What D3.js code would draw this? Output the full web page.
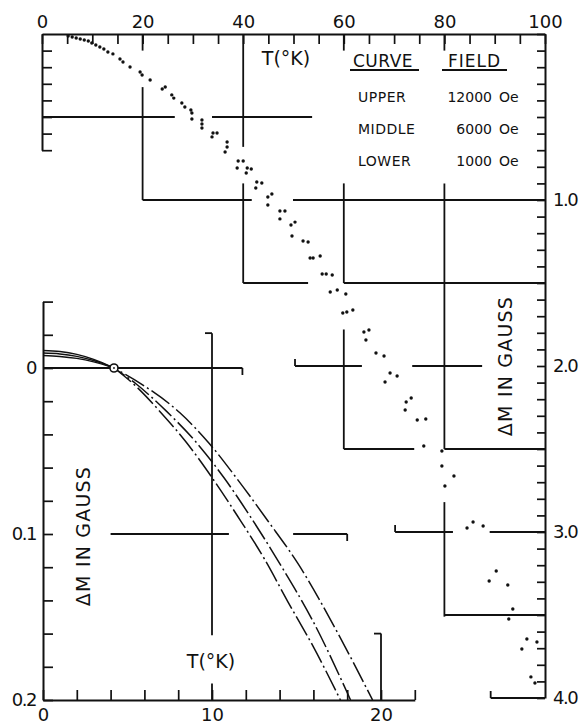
<!DOCTYPE html>
<html>
<head>
<meta charset="utf-8">
<script src="https://cdn.jsdelivr.net/npm/d3@7"></script>
<style>
  html, body { margin: 0; background: #fff; }
  svg text { font-family: "DejaVu Sans", sans-serif; fill: #111; }
</style>
</head>
<body>
<svg id="chart" width="585" height="726"></svg>
<script>
// ---- data ----

// main panel: T (K) on top axis, ΔM (gauss) on right axis
const mainTicksT = d3.range(0, 101, 5)
const mainLabelsT = [0, 20, 40, 60, 80, 100]
const mainTicksM = d3.range(0, 41).map(i => i / 10)
const mainLabelsM = [1, 2, 3, 4]

// measured points, all three fields together
const dotT = [5.2, 6.0, 6.8, 7.6, 8.4, 9.2, 9.9, 10.7, 11.5, 12.3, 13.1, 14.1, 15.5, 16.1, 17.5,
  19.5, 19.9, 21.5, 23.9, 24.5, 25.8, 26.2, 27.8, 28.4, 29.6, 29.8, 29.8, 31.8, 31.8, 31.8,
  34.0, 34.8, 33.8, 36.8, 36.8, 36.4, 39.0, 40.0, 38.8, 40.8, 41.6, 40.6, 42.7, 43.7, 42.5,
  45.7, 44.9, 44.9, 47.3, 48.3, 47.3, 49.5, 50.3, 49.7, 51.9, 52.9, 53.3, 53.9, 55.3, 55.7,
  56.5, 57.7, 57.3, 58.7, 60.4, 59.8, 60.6, 61.8, 65.0, 64.0, 64.4, 66.4, 68.0, 69.2, 70.6,
  68.2, 72.4, 73.4, 72.2, 74.6, 76.3, 75.9, 79.5, 79.5, 81.9, 80.1, 84.5, 85.7, 87.7, 88.9,
  90.3, 92.6, 93.6, 92.8, 96.4, 98.4, 95.4, 97.2, 98.0]
const dotM = [0.012, 0.018, 0.024, 0.030, 0.036, 0.042, 0.054, 0.066, 0.078, 0.090, 0.108, 0.120, 0.151, 0.169, 0.199,
  0.229, 0.247, 0.277, 0.331, 0.319, 0.367, 0.386, 0.416, 0.440, 0.458, 0.476, 0.512, 0.518, 0.542, 0.566,
  0.596, 0.596, 0.620, 0.651, 0.681, 0.711, 0.765, 0.765, 0.807, 0.807, 0.813, 0.837, 0.892, 0.898, 0.928,
  0.964, 0.982, 1.030, 1.066, 1.066, 1.114, 1.151, 1.133, 1.217, 1.247, 1.253, 1.349, 1.349, 1.337, 1.446,
  1.446, 1.452, 1.554, 1.542, 1.566, 1.681, 1.675, 1.663, 1.783, 1.795, 1.843, 1.922, 1.940, 2.042, 2.060,
  2.096, 2.217, 2.193, 2.265, 2.325, 2.319, 2.482, 2.512, 2.602, 2.663, 2.723, 2.976, 2.940, 2.964, 3.295,
  3.235, 3.319, 3.464, 3.524, 3.645, 3.663, 3.705, 3.873, 3.910]

// inset: low temperature curves, [T, ΔM]
const insetTicksT = d3.range(0, 23, 2)
const insetLabelsT = [0, 10, 20]
const insetTicksM = d3.range(-2, 11).map(i => i / 50)
const insetLabelsM = [0, 0.1, 0.2]

const lowerCurve = [[0, -0.0105], [1, -0.0099], [2, -0.0082], [3, -0.0052], [4.2, 0],
  [5.5, 0.011], [6.9, 0.026], [8.5, 0.045], [10, 0.066], [11.5, 0.089], [13.1, 0.115],
  [14.5, 0.141], [16, 0.168], [17.6, 0.2]]
const middleCurve = [[0, -0.009], [1, -0.0085], [2, -0.007], [3, -0.0045], [4.2, 0],
  [5.5, 0.0095], [7.3, 0.026], [9, 0.044], [10.7, 0.066], [12.3, 0.09], [13.9, 0.116],
  [16, 0.153], [18.2, 0.2]]
const upperCurve = [[0, -0.0075], [1, -0.007], [2, -0.0058], [3, -0.0037], [4.2, 0],
  [5.8, 0.0095], [8.1, 0.027], [9.8, 0.045], [11.5, 0.067], [13.3, 0.092], [15.1, 0.118],
  [17.3, 0.157], [19.5, 0.2]]
const crossing = [4.2, 0]

const legendRows = [['UPPER', '12000'], ['MIDDLE', '6000'], ['LOWER', '1000']]

// broken grid pieces of the old drawing, in data units
// main: [ΔM, T from, T to] and [T, ΔM from, ΔM to]
const mainHLines = [[0.5, 0, 26.4], [0.5, 33.8, 53.7], [1.0, 20, 41.7], [1.0, 49.9, 100],
  [1.5, 40, 52.9], [1.5, 60, 100], [2.0, 50.3, 63.6], [2.0, 73.6, 87.5],
  [2.5, 60, 74], [2.5, 80, 100], [3.0, 70.2, 81.7], [3.0, 89, 100], [3.5, 80, 100], [4.0, 89.2, 100]]
const mainVLines = [[20, 0, 0.1], [60, 0, 0.1], [80, 0, 0.1], [20, 0.32, 1.0], [40, 0, 0.68], [40, 0.9, 1.5],
  [60, 0.9, 1.5], [60, 1.78, 2.5], [80, 0.9, 2.5], [80, 2.82, 3.51]]
// inset: same layout
const insetHLines = [[0, 0, 11.8], [0.1, 4, 11.0], [0.1, 14.8, 18.0]]
const insetVLines = [[10, -0.021, 0.161], [10, 0.19, 0.2], [20, 0.16, 0.2]]

// ---- drawing ----
const svg = d3.select('#chart')
const ink = '#111'

const x = d3.scaleLinear().domain([0, 100]).range([42, 545])
const y = d3.scaleLinear().domain([0, 4]).range([34, 698])
const xi = d3.scaleLinear().domain([0, 20]).range([43, 381])
const yi = d3.scaleLinear().domain([0, 0.2]).range([368, 700])

let inkAxis = (g, size) => {
  g.selectAll('.domain').attr('stroke', ink).attr('stroke-width', 2)
  g.selectAll('.tick line').attr('stroke', ink).attr('stroke-width', 1.7)
  g.selectAll('.tick text').attr('fill', ink).attr('font-size', size || 18)
    .attr('font-family', '"DejaVu Sans", sans-serif')
}

// top axis (T, main)
svg.append('g').attr('transform', `translate(0,${y(0)})`)
  .call(d3.axisTop(x).tickValues(mainTicksT).tickSize(-10).tickSizeOuter(0).tickFormat(''))
  .call(inkAxis)
svg.append('g').attr('transform', `translate(0,${y(0)})`)
  .call(d3.axisTop(x).tickValues(mainLabelsT).tickSize(0).tickPadding(6).tickFormat(d3.format('d')))
  .call(g => g.select('.domain').remove())
  .call(inkAxis)

// right axis (ΔM, main)
svg.append('g').attr('transform', `translate(${x(100)},0)`)
  .call(d3.axisRight(y).tickValues(mainTicksM).tickSize(-8).tickSizeOuter(0).tickFormat(''))
  .call(inkAxis)
svg.append('g').attr('transform', `translate(${x(100)},0)`)
  .call(d3.axisRight(y).tickValues(mainLabelsM).tickSize(0).tickPadding(8).tickFormat(d3.format('.1f')))
  .call(g => g.select('.domain').remove())
  .call(inkAxis)
  .call(g => g.selectAll('text').attr('letter-spacing', -1.5))

// short left axis of the main panel
let yLeft = y.copy().domain([0, 0.7]).range([y(0), y(0.7)])
svg.append('g').attr('transform', `translate(${x(0)},0)`)
  .call(d3.axisLeft(yLeft).tickValues(d3.range(1, 8).map(i => i / 10)).tickSize(-10).tickSizeOuter(0).tickFormat(''))
  .call(inkAxis)

// inset axes
let yiAxis = yi.copy().domain([-0.04, 0.2]).range([yi(-0.04), yi(0.2)])
svg.append('g').attr('transform', `translate(${xi(0)},0)`)
  .call(d3.axisLeft(yiAxis).tickValues(insetTicksM).tickSize(-10).tickSizeOuter(0).tickFormat(''))
  .call(inkAxis)
svg.append('g').attr('transform', `translate(${xi(0)},0)`)
  .call(d3.axisLeft(yi).tickValues(insetLabelsM).tickSize(0).tickPadding(7)
    .tickFormat(d => d === 0 ? '0' : d3.format('.1f')(d)))
  .call(g => g.select('.domain').remove())
  .call(inkAxis)
  .call(g => g.selectAll('text').attr('letter-spacing', -1.5))

let xiAxis = xi.copy().domain([0, 22]).range([xi(0), xi(22)])
svg.append('g').attr('transform', `translate(0,${yi(0.2)})`)
  .call(d3.axisBottom(xiAxis).tickValues(insetTicksT).tickSize(-10).tickSizeOuter(0).tickFormat(''))
  .call(inkAxis)
svg.append('g').attr('transform', `translate(0,${yi(0.2)})`)
  .call(d3.axisBottom(xi).tickValues(insetLabelsT).tickSize(0).tickPadding(8).tickFormat(d3.format('d')))
  .call(g => g.select('.domain').remove())
  .call(inkAxis)

// broken grid lines
let grid = svg.append('g').attr('stroke', ink).attr('stroke-width', 1.8).attr('fill', 'none')
grid.selectAll('line.mh').data(mainHLines).join('line').attr('class', 'mh')
  .attr('x1', d => x(d[1])).attr('x2', d => x(d[2])).attr('y1', d => y(d[0])).attr('y2', d => y(d[0]))
grid.selectAll('line.mv').data(mainVLines).join('line').attr('class', 'mv')
  .attr('x1', d => x(d[0])).attr('x2', d => x(d[0])).attr('y1', d => y(d[1])).attr('y2', d => y(d[2]))
grid.selectAll('line.ih').data(insetHLines).join('line').attr('class', 'ih')
  .attr('x1', d => xi(d[1])).attr('x2', d => xi(d[2])).attr('y1', d => yi(d[0])).attr('y2', d => yi(d[0]))
grid.selectAll('line.iv').data(insetVLines).join('line').attr('class', 'iv')
  .attr('x1', d => xi(d[0])).attr('x2', d => xi(d[0])).attr('y1', d => yi(d[1])).attr('y2', d => yi(d[2]))

// little end hooks on some of the pieces
let hook = (px, py, dx, dy) => grid.append('line')
  .attr('x1', px).attr('y1', py).attr('x2', px + dx).attr('y2', py + dy)
hook(x(50.3), y(2.0), 0, -7)
hook(x(70.2), y(3.0), 0, -7)
hook(x(89.2), y(4.0), 0, -7)
hook(xi(11.8), yi(0), 0, 7)
hook(xi(18.0), yi(0.1), 0, 7)
hook(xi(10), yi(-0.021), -7, 0)
hook(xi(20), yi(0.16), -7, 0)

// measured points
svg.append('g').selectAll('circle')
  .data(d3.zip(dotT, dotM))
  .join('circle')
    .attr('cx', d => x(d[0]))
    .attr('cy', d => y(d[1]))
    .attr('r', 1.7)
    .attr('fill', ink)

// inset curves: solid up to the crossing point, dash-dot after it
let curveLine = d3.line().x(d => xi(d[0])).y(d => yi(d[1])).curve(d3.curveMonotoneX)
let curves = [lowerCurve, middleCurve, upperCurve]
let curveG = svg.append('g').attr('fill', 'none').attr('stroke', ink).attr('stroke-width', 1.5)
curves.forEach((c, i) => {
  curveG.append('path').attr('d', curveLine(c.filter(p => p[0] <= crossing[0])))
  curveG.append('path').attr('d', curveLine(c.filter(p => p[0] >= crossing[0])))
    .attr('stroke-dasharray', '22,3.5,2,3.5')
    .attr('stroke-dashoffset', i * 9)
})
svg.append('circle').attr('cx', xi(crossing[0])).attr('cy', yi(crossing[1])).attr('r', 4)
  .attr('fill', '#fff').attr('stroke', ink).attr('stroke-width', 1.6)
svg.append('circle').attr('cx', xi(crossing[0])).attr('cy', yi(crossing[1])).attr('r', 0.9).attr('fill', ink)

// labels
svg.append('text').attr('x', 286).attr('y', 65).attr('text-anchor', 'middle')
  .attr('font-size', 19).text('T(°K)')
svg.append('text').attr('x', 211).attr('y', 668).attr('text-anchor', 'middle')
  .attr('font-size', 19).text('T(°K)')

svg.append('text').attr('transform', 'translate(512,366) rotate(-90)').attr('text-anchor', 'middle')
  .attr('font-size', 19).attr('letter-spacing', 1.2).text('ΔM IN GAUSS')
svg.append('text').attr('transform', 'translate(90,536) rotate(-90)').attr('text-anchor', 'middle')
  .attr('font-size', 19).attr('letter-spacing', 1.2).text('ΔM IN GAUSS')

// legend table
let legend = svg.append('g')
legend.append('text').attr('x', 353).attr('y', 67).attr('font-size', 17).attr('letter-spacing', 0.5).text('CURVE')
legend.append('text').attr('x', 448).attr('y', 67).attr('font-size', 17).attr('letter-spacing', 1).text('FIELD')
legend.append('line').attr('x1', 350).attr('x2', 419).attr('y1', 70).attr('y2', 70)
  .attr('stroke', ink).attr('stroke-width', 1.8)
legend.append('line').attr('x1', 442).attr('x2', 507).attr('y1', 70).attr('y2', 70)
  .attr('stroke', ink).attr('stroke-width', 1.8)
legendRows.forEach(([name, field], i) => {
  let by = 102 + i * 32
  legend.append('text').attr('x', 358).attr('y', by).attr('font-size', 14).attr('letter-spacing', 0.5).text(name)
  legend.append('text').attr('x', 492).attr('y', by).attr('font-size', 14).attr('text-anchor', 'end').text(field)
  legend.append('text').attr('x', 499).attr('y', by).attr('font-size', 14).text('Oe')
})
</script>
</body>
</html>
